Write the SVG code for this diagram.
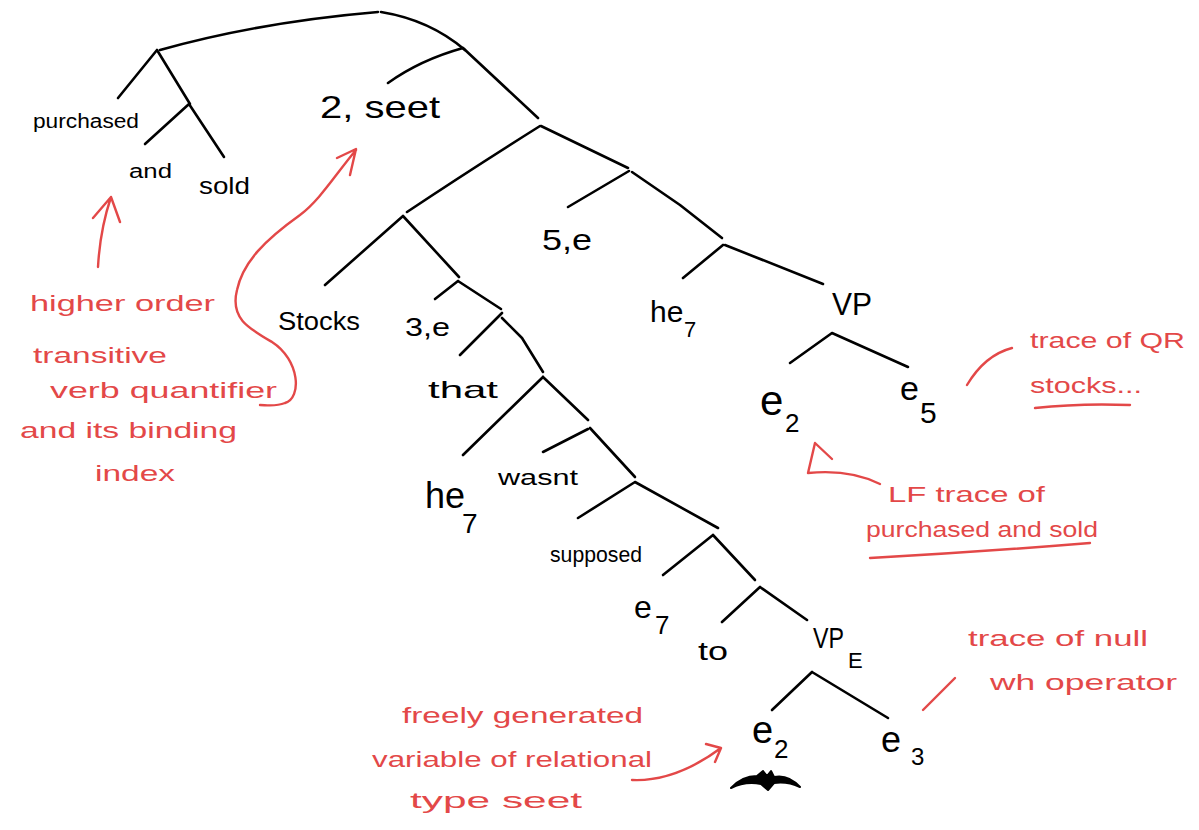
<svg xmlns="http://www.w3.org/2000/svg" width="1199" height="830" viewBox="0 0 1199 830">
<style>
.e{fill:none;stroke:#000;stroke-width:2.6;stroke-linecap:round;stroke-linejoin:round}
.r{fill:none;stroke:#e34848;stroke-width:2.4;stroke-linecap:round;stroke-linejoin:round}
.t{font-family:"Liberation Sans","DejaVu Sans",sans-serif;fill:#000}
.rt{font-family:"Liberation Sans","DejaVu Sans",sans-serif;fill:#e34848;font-size:22px}
</style>
<rect width="1199" height="830" fill="#fff"/>
<g id="connectors">
<path class="e" d="M160,50 Q260,22 378,12"/>
<path class="e" d="M381,12 Q430,20 465,50"/>
<path class="e" d="M157,50 L118,98 M157,50 L190,104"/>
<path class="e" d="M189,104 L145,144 M189,104 L224,157"/>
<path class="e" d="M463,48 Q420,60 388,83 M463,48 L538,118"/>
<path class="e" d="M540,126 Q470,170 407,212 M541,126 L628,168"/>
<path class="e" d="M629,171 L568,207 M632,172 L680,205 L722,238"/>
<path class="e" d="M723,245 L683,278 M725,245 L823,284"/>
<path class="e" d="M832,333 L790,363 M832,333 L908,367"/>
<path class="e" d="M403,216 L325,285 M403,216 L459,277"/>
<path class="e" d="M458,281 L435,299 M458,281 L501,309"/>
<path class="e" d="M502,313 L460,355 M502,318 L522,338 L543,372"/>
<path class="e" d="M543,377 L463,455 M543,377 L588,420"/>
<path class="e" d="M588,429 L543,452 M590,428 L635,477"/>
<path class="e" d="M635,482 L578,518 M635,482 L718,528"/>
<path class="e" d="M713,535 L663,575 M713,535 L755,580"/>
<path class="e" d="M760,587 L722,622 M760,587 L807,620"/>
<path class="e" d="M812,672 L772,710 M812,672 L888,718"/>
</g>
<g id="n-purchased"><text class="t" x="33" y="128" font-size="20" textLength="106" lengthAdjust="spacingAndGlyphs">purchased</text></g>
<g id="n-and"><text class="t" x="129" y="178" font-size="20" textLength="43" lengthAdjust="spacingAndGlyphs">and</text></g>
<g id="n-sold"><text class="t" x="199" y="194" font-size="24" textLength="51" lengthAdjust="spacingAndGlyphs">sold</text></g>
<g id="n-2seet"><text class="t" x="320" y="118" font-size="32" textLength="120" lengthAdjust="spacingAndGlyphs">2, seet</text></g>
<g id="n-5e"><text class="t" x="542" y="250" font-size="30" textLength="50" lengthAdjust="spacingAndGlyphs">5,e</text></g>
<g id="n-stocks"><text class="t" x="278" y="330" font-size="26" textLength="82" lengthAdjust="spacingAndGlyphs">Stocks</text></g>
<g id="n-3e"><text class="t" x="405" y="336" font-size="26" textLength="45" lengthAdjust="spacingAndGlyphs">3,e</text></g>
<g id="n-he7a"><text class="t" x="650" y="322" font-size="30">he<tspan x="684" y="337" font-size="22">7</tspan></text></g>
<g id="n-vp"><text class="t" x="832" y="315" font-size="32" textLength="40" lengthAdjust="spacingAndGlyphs">VP</text></g>
<g id="n-that"><text class="t" x="428" y="398" font-size="24" textLength="70" lengthAdjust="spacingAndGlyphs">that</text></g>
<g id="n-wasnt"><text class="t" x="498" y="485" font-size="22" textLength="80" lengthAdjust="spacingAndGlyphs">wasnt</text></g>
<g id="n-he7b"><text class="t" x="425" y="508" font-size="36">he<tspan x="462" y="533" font-size="28">7</tspan></text></g>
<g id="n-supposed"><text class="t" x="550" y="562" font-size="22" textLength="92" lengthAdjust="spacingAndGlyphs">supposed</text></g>
<g id="n-e2a"><text class="t" x="760" y="415" font-size="42">e<tspan x="785" y="432" font-size="26">2</tspan></text></g>
<g id="n-e5"><text class="t" x="900" y="400" font-size="34">e<tspan x="920" y="423" font-size="30">5</tspan></text></g>
<g id="n-e7"><text class="t" x="634" y="618" font-size="32">e<tspan x="655" y="634" font-size="26">7</tspan></text></g>
<g id="n-to"><text class="t" x="698" y="660" font-size="26" textLength="30" lengthAdjust="spacingAndGlyphs">to</text></g>
<g id="n-vpe"><text class="t" x="813" y="648" font-size="30" textLength="31" lengthAdjust="spacingAndGlyphs">VP</text><text class="t" x="848" y="668" font-size="22">E</text></g>
<g id="n-e2b"><text class="t" x="752" y="743" font-size="38">e<tspan x="774" y="758" font-size="26">2</tspan></text></g>
<g id="n-e3"><text class="t" x="881" y="752" font-size="36">e<tspan x="911" y="765" font-size="24">3</tspan></text></g>
<g id="scribble"><path d="M731,788 Q742,776 757,776 L763,771 L767,776 L771,771 L774,777 Q788,774 800,787 Q787,781 774,783 L768,790 L761,784 Q745,781 731,788 Z" fill="#000" stroke="#000" stroke-width="2" stroke-linejoin="round"/></g>
<g id="annotations">
<path class="r" d="M98,267 Q100,230 111,197 M93,218 L111,197 L120,222"/>
<path class="r" d="M356,150 C335,175 320,200 300,215 C265,240 243,262 237,290 C230,318 248,328 272,342 C300,360 302,398 285,403 C275,407 266,405 260,405 M337,158 L356,149 L350,175"/>
<path class="r" d="M967,385 Q985,355 1012,348"/>
<path class="r" d="M1035,408 Q1080,403 1130,405"/>
<path class="r" d="M880,484 C860,474 838,470 808,473 M808,473 L815,443 L832,459"/>
<path class="r" d="M870,558 Q980,552 1090,543"/>
<path class="r" d="M923,710 L955,678"/>
<path class="r" d="M632,780 Q675,782 721,748 M706,744 L721,748 L715,762"/>
<text class="rt" x="30" y="311" textLength="185" lengthAdjust="spacingAndGlyphs">higher order</text>
<text class="rt" x="33" y="363" textLength="134" lengthAdjust="spacingAndGlyphs">transitive</text>
<text class="rt" x="50" y="398" textLength="227" lengthAdjust="spacingAndGlyphs">verb quantifier</text>
<text class="rt" x="20" y="438" textLength="217" lengthAdjust="spacingAndGlyphs">and its binding</text>
<text class="rt" x="95" y="481" textLength="80" lengthAdjust="spacingAndGlyphs">index</text>
<text class="rt" x="1030" y="348" textLength="155" lengthAdjust="spacingAndGlyphs">trace of QR</text>
<text class="rt" x="1030" y="393" textLength="112" lengthAdjust="spacingAndGlyphs">stocks...</text>
<text class="rt" x="888" y="502" textLength="157" lengthAdjust="spacingAndGlyphs">LF trace of</text>
<text class="rt" x="866" y="537" textLength="232" lengthAdjust="spacingAndGlyphs">purchased and sold</text>
<text class="rt" x="968" y="646" textLength="180" lengthAdjust="spacingAndGlyphs">trace of null</text>
<text class="rt" x="990" y="690" textLength="187" lengthAdjust="spacingAndGlyphs">wh operator</text>
<text class="rt" x="402" y="723" textLength="241" lengthAdjust="spacingAndGlyphs">freely generated</text>
<text class="rt" x="372" y="767" textLength="280" lengthAdjust="spacingAndGlyphs">variable of relational</text>
<text class="rt" x="410" y="808" textLength="172" lengthAdjust="spacingAndGlyphs">type seet</text>
</g>
</svg>
